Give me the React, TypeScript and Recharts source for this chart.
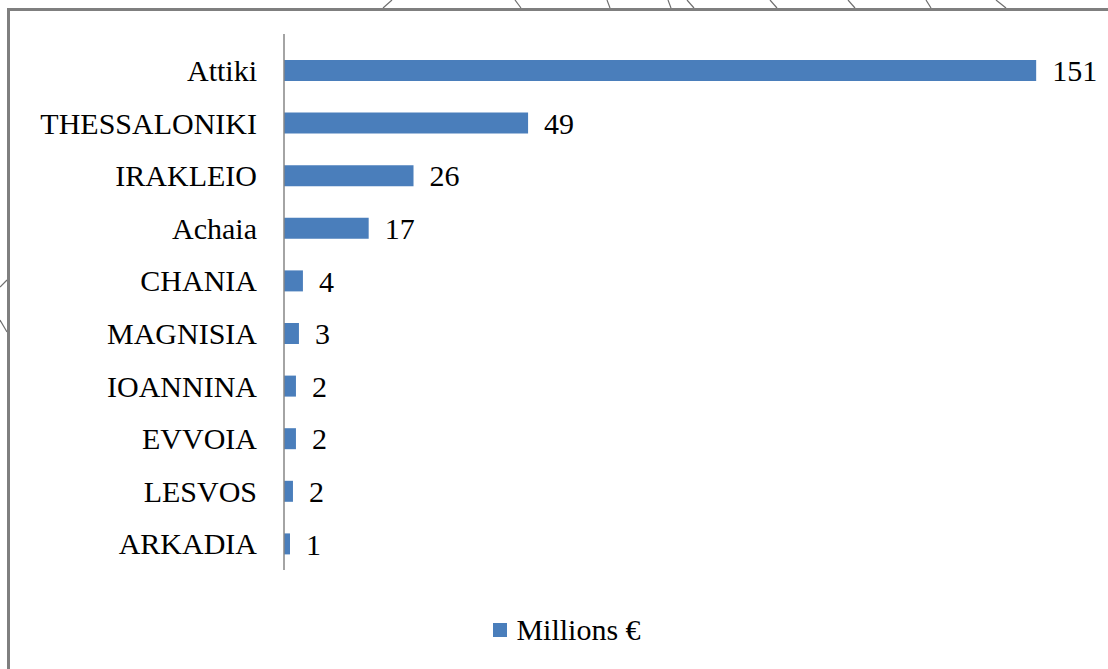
import { Bar, BarChart, LabelList, Legend, XAxis, YAxis } from 'recharts';

const regions = [
    'Attiki',
    'THESSALONIKI',
    'IRAKLEIO',
    'Achaia',
    'CHANIA',
    'MAGNISIA',
    'IOANNINA',
    'EVVOIA',
    'LESVOS',
    'ARKADIA',
];
const millions = [151, 49, 26, 17, 3.8, 3.0, 2.4, 2.4, 1.8, 1.2];
const seriesName = 'Millions €';

const data = regions.map((region, i) => ({ region, value: millions[i] }));

const FONT = "'Liberation Serif', serif";
const BAR_COLOR = '#4A7EBB';

function LegendContent() {
    return (
        <div
            style={{
                display: 'flex',
                justifyContent: 'center',
                alignItems: 'center',
                paddingLeft: 53,
                fontFamily: FONT,
                fontSize: 30,
                color: '#000',
                height: 36,
            }}
        >
            <span
                style={{
                    width: 14,
                    height: 14,
                    background: BAR_COLOR,
                    marginRight: 9,
                    display: 'inline-block',
                }}
            />
            {seriesName}
        </div>
    );
}

export default function App() {
    return (
        <div
            style={{
                position: 'fixed',
                left: 0,
                top: 0,
                width: 1108,
                height: 669,
                background: '#fff',
                overflow: 'hidden',
                fontFamily: FONT,
            }}
        >
            {/* bits of the map drawn behind the chart frame */}
            <svg
                width={1108}
                height={669}
                style={{ position: 'absolute', left: 0, top: 0 }}
            >
                <g stroke="#6e6e6e" strokeWidth={1.2}>
                    <line x1={392} y1={0} x2={383} y2={8} />
                    <line x1={515} y1={0} x2={521} y2={8} />
                    <line x1={607} y1={0} x2={610} y2={8} />
                    <line x1={668} y1={0} x2={671} y2={8} />
                    <line x1={687} y1={0} x2={694} y2={8} />
                    <line x1={770} y1={0} x2={777} y2={8} />
                    <line x1={848} y1={0} x2={855} y2={8} />
                    <line x1={926} y1={0} x2={931} y2={8} />
                    <line x1={996} y1={0} x2={1006} y2={8} />
                    <line x1={0} y1={287} x2={7} y2={280} />
                    <line x1={0} y1={320} x2={7} y2={332} />
                </g>
            </svg>
            <div
                style={{
                    position: 'absolute',
                    left: 7,
                    top: 8,
                    width: 1200,
                    height: 700,
                    borderLeft: '3px solid #7f7f7f',
                    borderTop: '3px solid #7f7f7f',
                    background: '#fff',
                }}
            />
            <div style={{ position: 'absolute', left: 0, top: 0 }}>
                <BarChart
                    width={1108}
                    height={669}
                    data={data}
                    layout="vertical"
                    margin={{ top: 34, right: 27, bottom: 21, left: 0 }}
                    barSize={21}
                >
                    <XAxis
                        type="number"
                        domain={[0, 160]}
                        height={42}
                        tick={false}
                        tickLine={false}
                        axisLine={false}
                    />
                    <YAxis
                        type="category"
                        dataKey="region"
                        width={284}
                        padding={{ top: 10, bottom: 0 }}
                        tickLine={false}
                        tickSize={0}
                        tickMargin={27}
                        axisLine={{ stroke: '#868686', strokeWidth: 1.5 }}
                        tick={{ fontSize: 30, fill: '#000', fontFamily: FONT }}
                        interval={0}
                    />
                    <Legend verticalAlign="bottom" height={36} content={<LegendContent />} />
                    <Bar
                        dataKey="value"
                        name={seriesName}
                        fill={BAR_COLOR}
                        isAnimationActive={false}
                    >
                        <LabelList
                            dataKey="value"
                            position="right"
                            offset={16}
                            formatter={(v: number) => Math.round(v)}
                            style={{ fontSize: 30, fill: '#000', fontFamily: FONT }}
                        />
                    </Bar>
                </BarChart>
            </div>
        </div>
    );
}
